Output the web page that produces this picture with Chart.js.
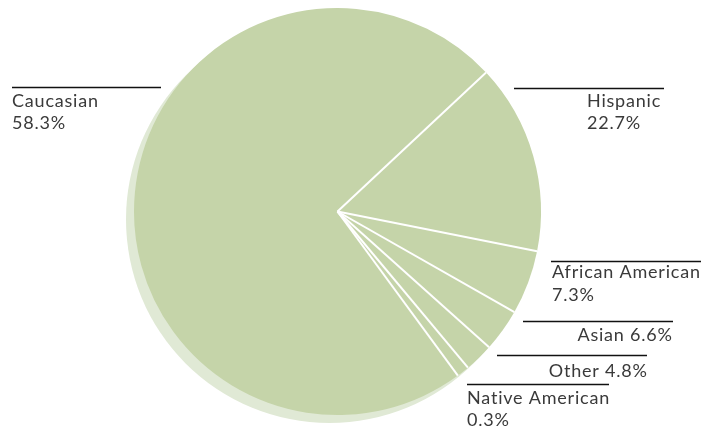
<!DOCTYPE html>
<html>
<head>
<meta charset="utf-8">
<script src="https://cdn.jsdelivr.net/npm/chart.js@4/dist/chart.umd.min.js"></script>
<style>
  html, body { margin: 0; padding: 0; background: #fff; }
  #wrap { width: 701px; height: 431px; }
</style>
</head>
<body>
<div id="wrap"><canvas id="c" width="701" height="431"></canvas></div>
<script>
// Categories in drawing order (clockwise, starting at the Hispanic edge)
const categories = ['Hispanic', 'African American', 'Asian', 'Other', 'Native American', 'Caucasian'];
// Slice sizes as drawn in the picture (share of the circle, %)
const sliceValues = [15.1, 5.1, 3.4, 2.3, 1.0, 73.1];
// Percent texts as printed on the labels
const percentLabels = ['22.7%', '7.3%', '6.6%', '4.8%', '0.3%', '58.3%'];

const FAMILY = 'Lato, "Noto Sans", sans-serif';
const TEXT_COLOR = '#3a3a3a';

// label layout: leader line (x1,x2,y), text anchor, alignment, one or two lines
const labelLayout = {
  'Caucasian':        { x1: 12,  x2: 161, y: 87,  tx: 12,  ty: [101, 123], align: 'left',  inline: false },
  'Hispanic':         { x1: 514, x2: 664, y: 88,  tx: 587, ty: [101, 123], align: 'left',  inline: false },
  'African American': { x1: 551, x2: 701, y: 261, tx: 552, ty: [272, 295], align: 'left',  inline: false },
  'Asian':            { x1: 523, x2: 673, y: 321, tx: 672, ty: [335], align: 'right', inline: true },
  'Other':            { x1: 497, x2: 647, y: 355, tx: 647, ty: [371], align: 'right', inline: true },
  'Native American':  { x1: 467, x2: 609, y: 384, tx: 467, ty: [398, 420], align: 'left',  inline: false }
};

const shadowPlugin = {
  id: 'pieShadow',
  beforeDatasetsDraw(chart) {
    const arc = chart.getDatasetMeta(0).data[0];
    if (!arc) return;
    const ctx = chart.ctx;
    ctx.save();
    ctx.fillStyle = '#e0e9d5';
    ctx.beginPath();
    ctx.arc(arc.x - 8, arc.y + 8, arc.outerRadius, 0, Math.PI * 2);
    ctx.fill();
    ctx.restore();
  }
};

const separatorPlugin = {
  id: 'separators',
  afterDatasetsDraw(chart) {
    const ctx = chart.ctx;
    const arcs = chart.getDatasetMeta(0).data;
    ctx.save();
    ctx.strokeStyle = '#ffffff';
    ctx.lineWidth = 2;
    arcs.forEach(a => {
      ctx.beginPath();
      ctx.moveTo(a.x, a.y);
      ctx.lineTo(a.x + a.outerRadius * Math.cos(a.startAngle), a.y + a.outerRadius * Math.sin(a.startAngle));
      ctx.stroke();
    });
    ctx.restore();
  }
};

const labelPlugin = {
  id: 'leaderLabels',
  afterDraw(chart) {
    const ctx = chart.ctx;
    ctx.save();
    const SIZE = 18;
    ctx.font = '400 ' + SIZE + 'px ' + FAMILY;
    // small tracking so "African American" spans about the reference width (~148px)
    const raw = ctx.measureText('African American').width;
    const ls = Math.max(0, Math.min(0.8, (148 - raw) / 15));
    if ('letterSpacing' in ctx) ctx.letterSpacing = ls.toFixed(2) + 'px';
    ctx.textBaseline = 'middle';
    categories.forEach((cat, i) => {
      const L = labelLayout[cat];
      ctx.strokeStyle = '#111111';
      ctx.lineWidth = 1.4;
      ctx.beginPath();
      ctx.moveTo(L.x1, L.y + 0.5);
      ctx.lineTo(L.x2, L.y + 0.5);
      ctx.stroke();
      ctx.fillStyle = TEXT_COLOR;
      ctx.textAlign = L.align;
      const xr = L.align === 'right' ? L.tx + ls : L.tx;
      if (L.inline) {
        ctx.fillText(cat + ' ' + percentLabels[i], xr, L.ty[0]);
      } else {
        ctx.fillText(cat, xr, L.ty[0]);
        ctx.fillText(percentLabels[i], xr, L.ty[1]);
      }
    });
    ctx.restore();
  }
};

new Chart(document.getElementById('c'), {
  type: 'pie',
  data: {
    labels: categories,
    datasets: [{
      data: sliceValues,
      backgroundColor: '#c5d4a9',
      borderWidth: 0,
      hoverOffset: 0
    }]
  },
  options: {
    responsive: false,
    animation: false,
    rotation: 46.9,
    layout: { padding: { top: 8, bottom: 16, left: 134, right: 160 } },
    plugins: {
      legend: { display: false },
      tooltip: { enabled: false }
    }
  },
  plugins: [shadowPlugin, separatorPlugin, labelPlugin]
});
</script>
</body>
</html>
